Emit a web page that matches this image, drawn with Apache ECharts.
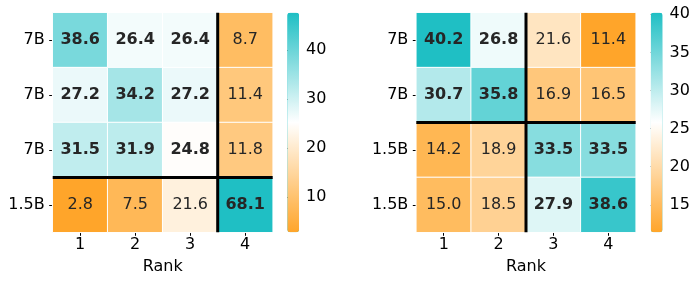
<!DOCTYPE html>
<html>
<head>
<meta charset="utf-8">
<script src="https://cdn.jsdelivr.net/npm/echarts@6/dist/echarts.min.js"></script>
<style>html,body{margin:0;padding:0;background:#fff}#c{width:698px;height:284px}</style>
</head>
<body>
<div id="c"></div>
<script>
// ---- data ----
const rankLabels = ['1', '2', '3', '4'];
const leftRows = ['7B', '7B', '7B', '1.5B'];
const rightRows = ['7B', '7B', '1.5B', '1.5B'];
const leftValues = [
  [38.6, 26.4, 26.4, 8.7],
  [27.2, 34.2, 27.2, 11.4],
  [31.5, 31.9, 24.8, 11.8],
  [2.8, 7.5, 21.6, 68.1]
];
const rightValues = [
  [40.2, 26.8, 21.6, 11.4],
  [30.7, 35.8, 16.9, 16.5],
  [14.2, 18.9, 33.5, 33.5],
  [15.0, 18.5, 27.9, 38.6]
];
const leftScale = [2.8, 47.6];
const rightScale = [11.4, 40.2];
const leftTicks = [10, 20, 30, 40];
const rightTicks = [15, 20, 25, 30, 35, 40];
const leftSplit = {col: 3, row: 3};
const rightSplit = {col: 2, row: 2};
const boldMin = 24;

// ---- styling ----
const FONT = 'DejaVu Sans';
const TXT = '#262626';
const AX = '#000000';
const cmap = ['#FFA52A', '#ffffff', '#1FBFC4'];

function toCells(m) {
  const out = [];
  m.forEach((row, r) => row.forEach((v, c) => out.push([c, r, v])));
  return out;
}

const L = {left: 52.7, top: 12.7, width: 220, height: 219.6};
const R = {left: 416.3, top: 12.7, width: 219.4, height: 219.6};
const LC = {left: 287.3, top: 12.7, width: 11.7, height: 219.6};
const RC = {left: 650.8, top: 12.7, width: 11.7, height: 219.6};

function catX(gi, name) {
  return {
    type: 'category', gridIndex: gi, data: rankLabels, position: 'bottom',
    name: name, nameLocation: 'middle', nameGap: 27,
    nameTextStyle: {fontFamily: FONT, fontSize: 16, color: AX},
    axisLine: {show: false}, splitLine: {show: false},
    axisTick: {show: true, alignWithLabel: true, length: 3.5, lineStyle: {color: AX, width: 1}},
    axisLabel: {fontFamily: FONT, fontSize: 16, color: AX, margin: 5}
  };
}
function catY(gi, rows) {
  return {
    type: 'category', gridIndex: gi, data: rows, inverse: true,
    axisLine: {show: false}, splitLine: {show: false},
    axisTick: {show: true, alignWithLabel: true, length: 3.5, lineStyle: {color: AX, width: 1}},
    axisLabel: {fontFamily: FONT, fontSize: 16, color: AX, margin: 8}
  };
}
function hiddenVal(gi, inv) {
  return {type: 'value', gridIndex: gi, min: 0, max: 4, inverse: !!inv, show: false};
}
function cbX(gi) { return {type: 'value', gridIndex: gi, min: 0, max: 1, show: false}; }
function cbY(gi, sc, ticks) {
  return {
    type: 'value', gridIndex: gi, min: sc[0], max: sc[1], position: 'right',
    axisLine: {show: false}, splitLine: {show: false},
    axisTick: {show: true, length: 3.5, customValues: ticks, lineStyle: {color: AX, width: 1}},
    axisLabel: {show: true, customValues: ticks, fontFamily: FONT, fontSize: 16, color: AX, margin: 7}
  };
}
function heat(xi, yi, vals) {
  return {
    type: 'heatmap', xAxisIndex: xi, yAxisIndex: yi, data: toCells(vals),
    itemStyle: {borderColor: '#ffffff', borderWidth: 1},
    label: {
      show: true, color: TXT, fontFamily: FONT, fontSize: 16,
      formatter: p => (p.value[2] >= boldMin ? '{b|' : '{n|') + p.value[2].toFixed(1) + '}',
      rich: {
        b: {fontFamily: FONT, fontSize: 16, fontWeight: 'bold', color: TXT},
        n: {fontFamily: FONT, fontSize: 16, fontWeight: 'normal', color: TXT}
      }
    },
    emphasis: {disabled: true}, silent: true
  };
}
function splitLines(xi, yi, sp) {
  return {
    type: 'line', xAxisIndex: xi, yAxisIndex: yi, z: 10, silent: true, clip: false,
    symbol: 'none', connectNulls: false,
    lineStyle: {color: '#000', width: 3},
    data: [[sp.col, 0], [sp.col, 4], null, [0, sp.row], [4, sp.row]]
  };
}
function vm(si, sc, box) {
  return {
    type: 'continuous', seriesIndex: si, min: sc[0], max: sc[1],
    calculable: false, realtime: false, padding: 0,
    itemWidth: box.width, itemHeight: box.height,
    left: box.left, top: box.top, orient: 'vertical',
    inRange: {color: cmap}, outOfRange: {color: [cmap[2]]},
    text: null, showLabel: false, hoverLink: false
  };
}

const chart = echarts.init(document.getElementById('c'), null, {renderer: 'canvas'});
chart.setOption({
  animation: false,
  backgroundColor: '#ffffff',
  textStyle: {fontFamily: FONT},
  grid: [L, R, L, R, LC, RC].map(g => Object.assign({containLabel: false}, g)),
  xAxis: [catX(0, 'Rank'), catX(1, 'Rank'), hiddenVal(2), hiddenVal(3), cbX(4), cbX(5)],
  yAxis: [catY(0, leftRows), catY(1, rightRows), hiddenVal(2, true), hiddenVal(3, true),
          cbY(4, leftScale, leftTicks), cbY(5, rightScale, rightTicks)],
  visualMap: [vm(0, leftScale, LC), vm(1, rightScale, RC)],
  series: [
    heat(0, 0, leftValues),
    heat(1, 1, rightValues),
    splitLines(2, 2, leftSplit),
    splitLines(3, 3, rightSplit)
  ]
});
</script>
</body>
</html>
